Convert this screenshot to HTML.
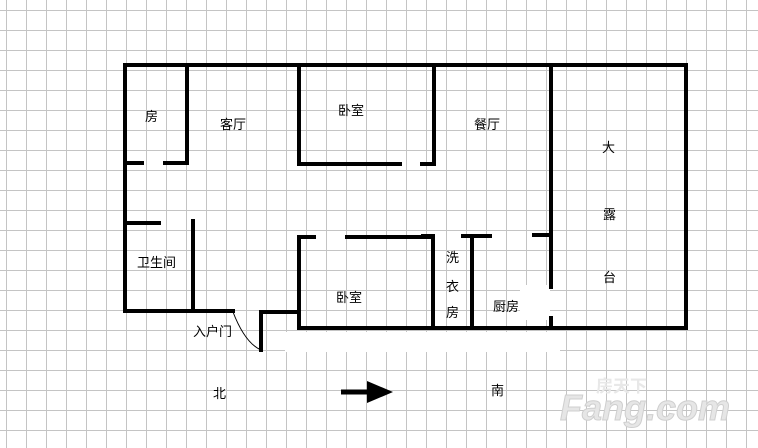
<!DOCTYPE html>
<html><head><meta charset="utf-8"><style>
html,body{margin:0;padding:0;width:758px;height:448px;overflow:hidden;background:#fff;}
svg{display:block}
text{font-family:"Liberation Sans","Noto Sans CJK SC",sans-serif;font-size:13px;fill:#000;}
</style></head><body>
<svg width="758" height="448" viewBox="0 0 758 448" xmlns="http://www.w3.org/2000/svg">
<defs>
<pattern id="g" x="6" y="10" width="20" height="20" patternUnits="userSpaceOnUse">
<path d="M0.5 0V20M0 0.5H20" stroke="#c4c4c4" stroke-width="1" fill="none"/>
</pattern>
</defs>
<rect width="758" height="448" fill="#fff"/>
<rect width="758" height="448" fill="url(#g)"/>
<rect x="285" y="332" width="275" height="20" fill="#fff"/>
<rect x="520" y="285" width="30" height="35" fill="#fff"/>
<g stroke="#000" stroke-width="4" fill="none" stroke-linecap="square">
<path d="M125 65H686V328"/>
<path d="M125 65V311H233"/>
<path d="M261 350V312H299"/>
<path d="M299 237V328H686"/>
<path d="M187 65V163H165M142 163H125"/>
<path d="M299 65V164H400M422 164H434V65"/>
<path d="M125 223H159"/>
<path d="M193 221V311"/>
<path d="M299 237H314M347 237H433V328"/>
<path d="M433 236H423"/>
<path d="M472 236V328M463 236H490"/>
<path d="M534 235H551M551 65V287M551 318V328"/>
</g>
<path d="M233 312Q245 343 261 350" stroke="#000" stroke-width="1" fill="none"/>
<path d="M341 392H368" stroke="#000" stroke-width="5"/>
<path d="M367 381L393 392L367 403Z" fill="#000"/>
<text x="145" y="121">房</text>
<text x="220" y="129">客厅</text>
<text x="338" y="115">卧室</text>
<text x="474" y="129">餐厅</text>
<text x="602" y="152">大</text>
<text x="603" y="219">露</text>
<text x="603" y="282">台</text>
<text x="137" y="267">卫生间</text>
<text x="336" y="302">卧室</text>
<text x="446" y="262">洗</text>
<text x="446" y="291">衣</text>
<text x="446" y="317">房</text>
<text x="493" y="311">厨房</text>
<text x="193" y="336">入户门</text>
<text x="213" y="398">北</text>
<text x="491" y="395">南</text>
<text x="596" y="392" style="font-size:17px;fill:#e8e8e8;font-weight:bold">房天下</text>
<text x="560" y="420" style="font-size:36px;fill:#e6e6e6;font-weight:bold;font-style:italic;stroke:#cfcfcf;stroke-width:1">Fang.com</text>
</svg>
</body></html>
